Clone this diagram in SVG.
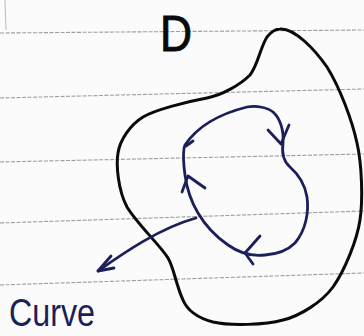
<svg xmlns="http://www.w3.org/2000/svg" width="364" height="336" viewBox="0 0 364 336">
<style>
.paper{stroke:#8c8488;stroke-width:1.1;stroke-dasharray:4 1.5;fill:none;opacity:0.8}
.blk{fill:none;stroke:#0a0a0a;stroke-width:3;stroke-linecap:round;stroke-linejoin:round}
.blu{fill:none;stroke:#1b1f5a;stroke-width:2.8;stroke-linecap:round;stroke-linejoin:round}
.lbl{font-family:"Liberation Sans",Arial,sans-serif}
</style>
<rect width="364" height="336" fill="#fbfbfb"/>
<g id="paper">
<line class="paper" x1="0" y1="33" x2="364" y2="30"/>
<line class="paper" x1="0" y1="98" x2="364" y2="89"/>
<line class="paper" x1="0" y1="162" x2="364" y2="154"/>
<line class="paper" x1="0" y1="223" x2="364" y2="211"/>
<line class="paper" x1="0" y1="285" x2="364" y2="273"/>
<line x1="5" y1="0" x2="6" y2="30" stroke="#bbb" stroke-width="1"/>
</g>
<g id="region-D">
<path class="blk" d="M 280,29 C 295,28 315,50 327,67 C 340,88 352,120 357,143 C 362,165 363,200 360,220 C 357,240 345,270 333,287 C 322,302 300,316 283,320 C 265,325 230,326 213,322 C 198,318 188,312 183,300 C 176,285 174,268 168,258 C 160,245 138,225 127,207 C 118,190 116,165 118,153 C 120,140 130,125 143,117 C 155,110 185,102 207,98 C 222,95 240,85 250,75 C 258,65 260,48 267,37 C 271,32 275,29 280,29 Z"/>
<text class="lbl" x="160" y="51" font-size="50" textLength="32" lengthAdjust="spacingAndGlyphs" fill="#0a0a0a" stroke="#0a0a0a" stroke-width="1">D</text>
</g>
<g id="curve">
<path class="blu" d="M 247,107 C 257,105 268,108 273,112 C 280,118 284,130 283,143 C 282,150 282,160 290,167 C 298,174 305,185 307,197 C 309,212 306,230 295,243 C 288,250 280,254 265,255 C 250,257 238,252 228,245 C 215,236 205,225 198,213 C 192,203 187,190 185,175 C 183,160 183,150 185,145 C 195,130 215,115 247,107 Z"/>
<path class="blu" d="M 268,130 L 281,144 L 289,125"/>
<path class="blu" d="M 260,236 L 245,253 L 253,264"/>
<path class="blu" d="M 182,192 L 188,176 L 205,188"/>
<path class="blu" d="M 186,146 L 193,141"/>
</g>
<g id="connectors">
<path class="blu" d="M 196,218 C 160,228 125,252 98,271"/>
<path class="blu" d="M 111,256 L 98,271 L 114,268"/>
</g>
<g id="label-curve">
<text class="lbl" x="9" y="326" font-size="38" textLength="86" lengthAdjust="spacingAndGlyphs" fill="#1b1f5a">Curve</text>
</g>
</svg>
